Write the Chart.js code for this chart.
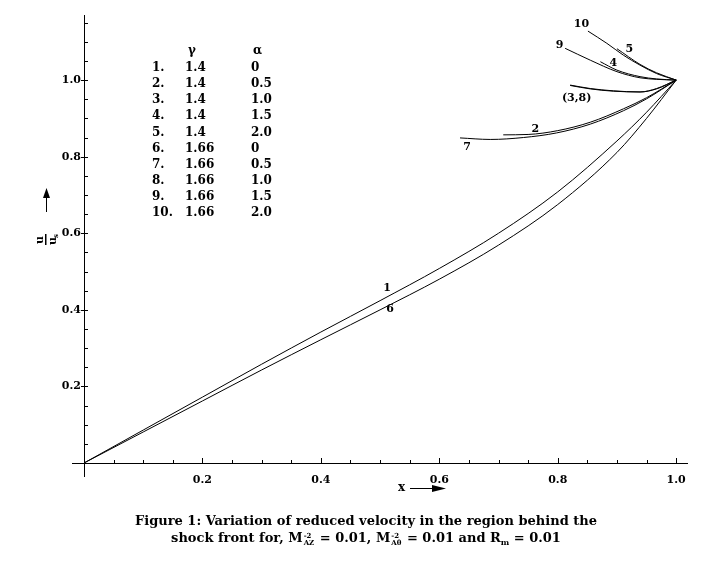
<!DOCTYPE html>
<html>
<head>
<meta charset="utf-8">
<script src="https://cdn.jsdelivr.net/npm/chart.js@4.4.0/dist/chart.umd.min.js"></script>
<style>
  body { margin: 0; background: #fff; }
  #wrap { position: relative; width: 718px; height: 568px; }
  #caption {
    position: absolute; left: 0; top: 512px; width: 718px; padding-left: 14px;
    box-sizing: border-box; text-align: center; color: #000;
    font: bold 13px "DejaVu Serif", serif; line-height: 17px;
  }
  .ss { display: inline-block; vertical-align: -3px; font-size: 7px; line-height: 7px; text-align: left; margin: -6px 1px 0 1px; }
  .sb { font-size: 8px; vertical-align: -3px; line-height: 0; }
</style>
</head>
<body>
<div id="wrap">
  <canvas id="myChart" width="718" height="568"></canvas>
  <div id="caption">
    Figure 1: Variation of reduced velocity in the region behind the<br>
    shock front for, M<span class="ss">-2<br>AZ</span> = 0.01, M<span class="ss">-2<br>Aθ</span> = 0.01 and R<span class="sb">m</span> = 0.01
  </div>
</div>
<script>
// tick labels
const xTicks = [0.2, 0.4, 0.6, 0.8, 1.0];
const yTicks = [0.2, 0.4, 0.6, 0.8, 1.0];

// legend table
const curveNums = ['1.', '2.', '3.', '4.', '5.', '6.', '7.', '8.', '9.', '10.'];
const gammaVals = ['1.4', '1.4', '1.4', '1.4', '1.4', '1.66', '1.66', '1.66', '1.66', '1.66'];
const alphaVals = ['0', '0.5', '1.0', '1.5', '2.0', '0', '0.5', '1.0', '1.5', '2.0'];

// curves (x, u/u_s)
const c1x = [0, 0.1, 0.2, 0.3, 0.4, 0.5, 0.6, 0.7, 0.8, 0.9, 0.95, 1.0];
const c1y = [0, 0.086, 0.172, 0.258, 0.342, 0.424, 0.508, 0.600, 0.708, 0.841, 0.916, 1.0];
const c6x = [0, 0.1, 0.2, 0.3, 0.4, 0.5, 0.6, 0.7, 0.8, 0.9, 0.95, 1.0];
const c6y = [0, 0.081, 0.162, 0.243, 0.322, 0.400, 0.480, 0.569, 0.675, 0.811, 0.900, 1.0];
const c2x = [0.708, 0.75, 0.80, 0.855, 0.911, 0.95, 1.0];
const c2y = [0.857, 0.858, 0.868, 0.890, 0.925, 0.954, 1.0];
const c7x = [0.635, 0.686, 0.742, 0.798, 0.855, 0.911, 0.95, 1.0];
const c7y = [0.849, 0.845, 0.850, 0.862, 0.885, 0.920, 0.951, 1.0];
const c3x = [0.821, 0.855, 0.894, 0.939, 0.967, 1.0];
const c3y = [0.987, 0.978, 0.972, 0.969, 0.978, 1.0];
const c8x = [0.821, 0.855, 0.894, 0.939, 0.967, 1.0];
const c8y = [0.986, 0.977, 0.971, 0.969, 0.977, 1.0];
const c4x = [0.872, 0.900, 0.939, 0.967, 1.0];
const c4y = [1.048, 1.026, 1.009, 1.003, 1.0];
const c9x = [0.8125, 0.855, 0.900, 0.939, 0.967, 1.0];
const c9y = [1.083, 1.052, 1.022, 1.006, 1.002, 1.0];
const c5x = [0.900, 0.939, 0.967, 1.0];
const c5y = [1.082, 1.041, 1.019, 1.0];
const c10x = [0.851, 0.883, 0.911, 0.939, 0.967, 1.0];
const c10y = [1.128, 1.096, 1.065, 1.039, 1.017, 1.0];

// curve labels: text, x, y (data units)
const labelText = ['1', '6', '7', '2', '(3,8)', '4', '9', '10', '5'];
const labelX = [0.512, 0.517, 0.647, 0.762, 0.832, 0.894, 0.803, 0.840, 0.921];
const labelY = [0.457, 0.402, 0.825, 0.871, 0.953, 1.045, 1.091, 1.146, 1.081];

const serif = '"DejaVu Serif", serif';

function pts(xs, ys) {
  return xs.map((x, i) => ({ x: x, y: ys[i] }));
}

const curves = [
  pts(c1x, c1y), pts(c2x, c2y), pts(c3x, c3y), pts(c4x, c4y), pts(c5x, c5y),
  pts(c6x, c6y), pts(c7x, c7y), pts(c8x, c8y), pts(c9x, c9y), pts(c10x, c10y)
];

// axes, minor ticks, labels, legend table
const decorations = {
  id: 'decorations',
  afterDraw(chart) {
    const ctx = chart.ctx;
    const xs = chart.scales.x, ys = chart.scales.y;
    const x0 = xs.getPixelForValue(0), y0 = ys.getPixelForValue(0);
    ctx.save();
    ctx.strokeStyle = '#000';
    ctx.fillStyle = '#000';
    ctx.lineWidth = 1;

    // axis lines
    ctx.beginPath();
    ctx.moveTo(x0 - 12, y0 + 0.5);
    ctx.lineTo(chart.chartArea.right, y0 + 0.5);
    ctx.moveTo(x0 + 0.5, y0 + 14);
    ctx.lineTo(x0 + 0.5, chart.chartArea.top);
    ctx.stroke();

    // ticks every 0.05
    ctx.beginPath();
    for (let i = 1; i <= 20; i++) {
      const v = i * 0.05;
      const major = i % 4 === 0;
      const px = Math.round(xs.getPixelForValue(v)) + 0.5;
      ctx.moveTo(px, y0);
      ctx.lineTo(px, y0 - (major ? 5 : 3));
    }
    for (let i = 1; i <= 23; i++) {
      const v = i * 0.05;
      const major = i % 4 === 0 && i <= 20;
      const py = Math.round(ys.getPixelForValue(v)) + 0.5;
      ctx.moveTo(x0 - (major ? 3 : 0), py);
      ctx.lineTo(x0 + 4, py);
    }
    ctx.stroke();

    // curve labels
    ctx.font = 'bold 11px ' + serif;
    ctx.textAlign = 'center';
    ctx.textBaseline = 'middle';
    labelText.forEach((t, i) => {
      ctx.fillText(t, xs.getPixelForValue(labelX[i]), ys.getPixelForValue(labelY[i]));
    });

    // legend table
    ctx.font = 'bold 12px ' + serif;
    ctx.textAlign = 'left';
    ctx.fillText('γ', 188, 51);
    ctx.fillText('α', 253, 51);
    curveNums.forEach((n, i) => {
      const py = 68 + i * 16.1;
      ctx.fillText(n, 152, py);
      ctx.fillText(gammaVals[i], 185, py);
      ctx.fillText(alphaVals[i], 251, py);
    });

    // x axis title with arrow
    ctx.font = 'bold 12px ' + serif;
    ctx.fillText('x', 398, 488);
    ctx.beginPath();
    ctx.moveTo(410, 488.5);
    ctx.lineTo(436, 488.5);
    ctx.stroke();
    ctx.beginPath();
    ctx.moveTo(446, 488.5);
    ctx.lineTo(432, 485);
    ctx.lineTo(432, 492);
    ctx.closePath();
    ctx.fill();

    // y axis title: u/u_s with arrow, rotated
    ctx.translate(46, 240);
    ctx.rotate(-Math.PI / 2);
    ctx.textAlign = 'center';
    ctx.font = 'bold 11px ' + serif;
    ctx.fillText('u', 0, -6);
    ctx.fillText('u', -1, 7);
    ctx.font = 'bold 7px ' + serif;
    ctx.fillText('s', 4, 10);
    ctx.fillRect(-5, -1, 11, 1.5);
    ctx.beginPath();
    ctx.moveTo(28, 0.5);
    ctx.lineTo(44, 0.5);
    ctx.stroke();
    ctx.beginPath();
    ctx.moveTo(52, 0.5);
    ctx.lineTo(42, -3);
    ctx.lineTo(42, 4);
    ctx.closePath();
    ctx.fill();
    ctx.restore();
  }
};

new Chart(document.getElementById('myChart'), {
  type: 'line',
  data: {
    datasets: curves.map((d, i) => ({
      label: 'curve ' + (i + 1),
      data: d,
      borderColor: '#000',
      borderWidth: 1,
      pointRadius: 0,
      fill: false,
      cubicInterpolationMode: 'monotone'
    }))
  },
  options: {
    responsive: false,
    animation: false,
    events: [],
    layout: { padding: { left: 0, right: 30, top: 15, bottom: 75 } },
    plugins: { legend: { display: false }, tooltip: { enabled: false } },
    scales: {
      x: {
        type: 'linear',
        min: 0,
        max: 1.02,
        grid: { display: false, drawTicks: false },
        border: { display: false },
        afterBuildTicks: (s) => { s.ticks = xTicks.map(v => ({ value: v })); },
        afterFit: (s) => { s.height = 30; },
        ticks: {
          color: '#000',
          padding: 11,
          maxRotation: 0,
          font: { family: serif, size: 11, weight: 'bold' },
          callback: (v) => v.toFixed(1)
        }
      },
      y: {
        type: 'linear',
        min: 0,
        max: 1.17,
        grid: { display: false, drawTicks: false },
        border: { display: false },
        afterBuildTicks: (s) => { s.ticks = yTicks.map(v => ({ value: v })); },
        afterFit: (s) => { s.width = 84; },
        ticks: {
          color: '#000',
          padding: 3,
          font: { family: serif, size: 11, weight: 'bold' },
          callback: (v) => v.toFixed(1)
        }
      }
    }
  },
  plugins: [decorations]
});
</script>
</body>
</html>
